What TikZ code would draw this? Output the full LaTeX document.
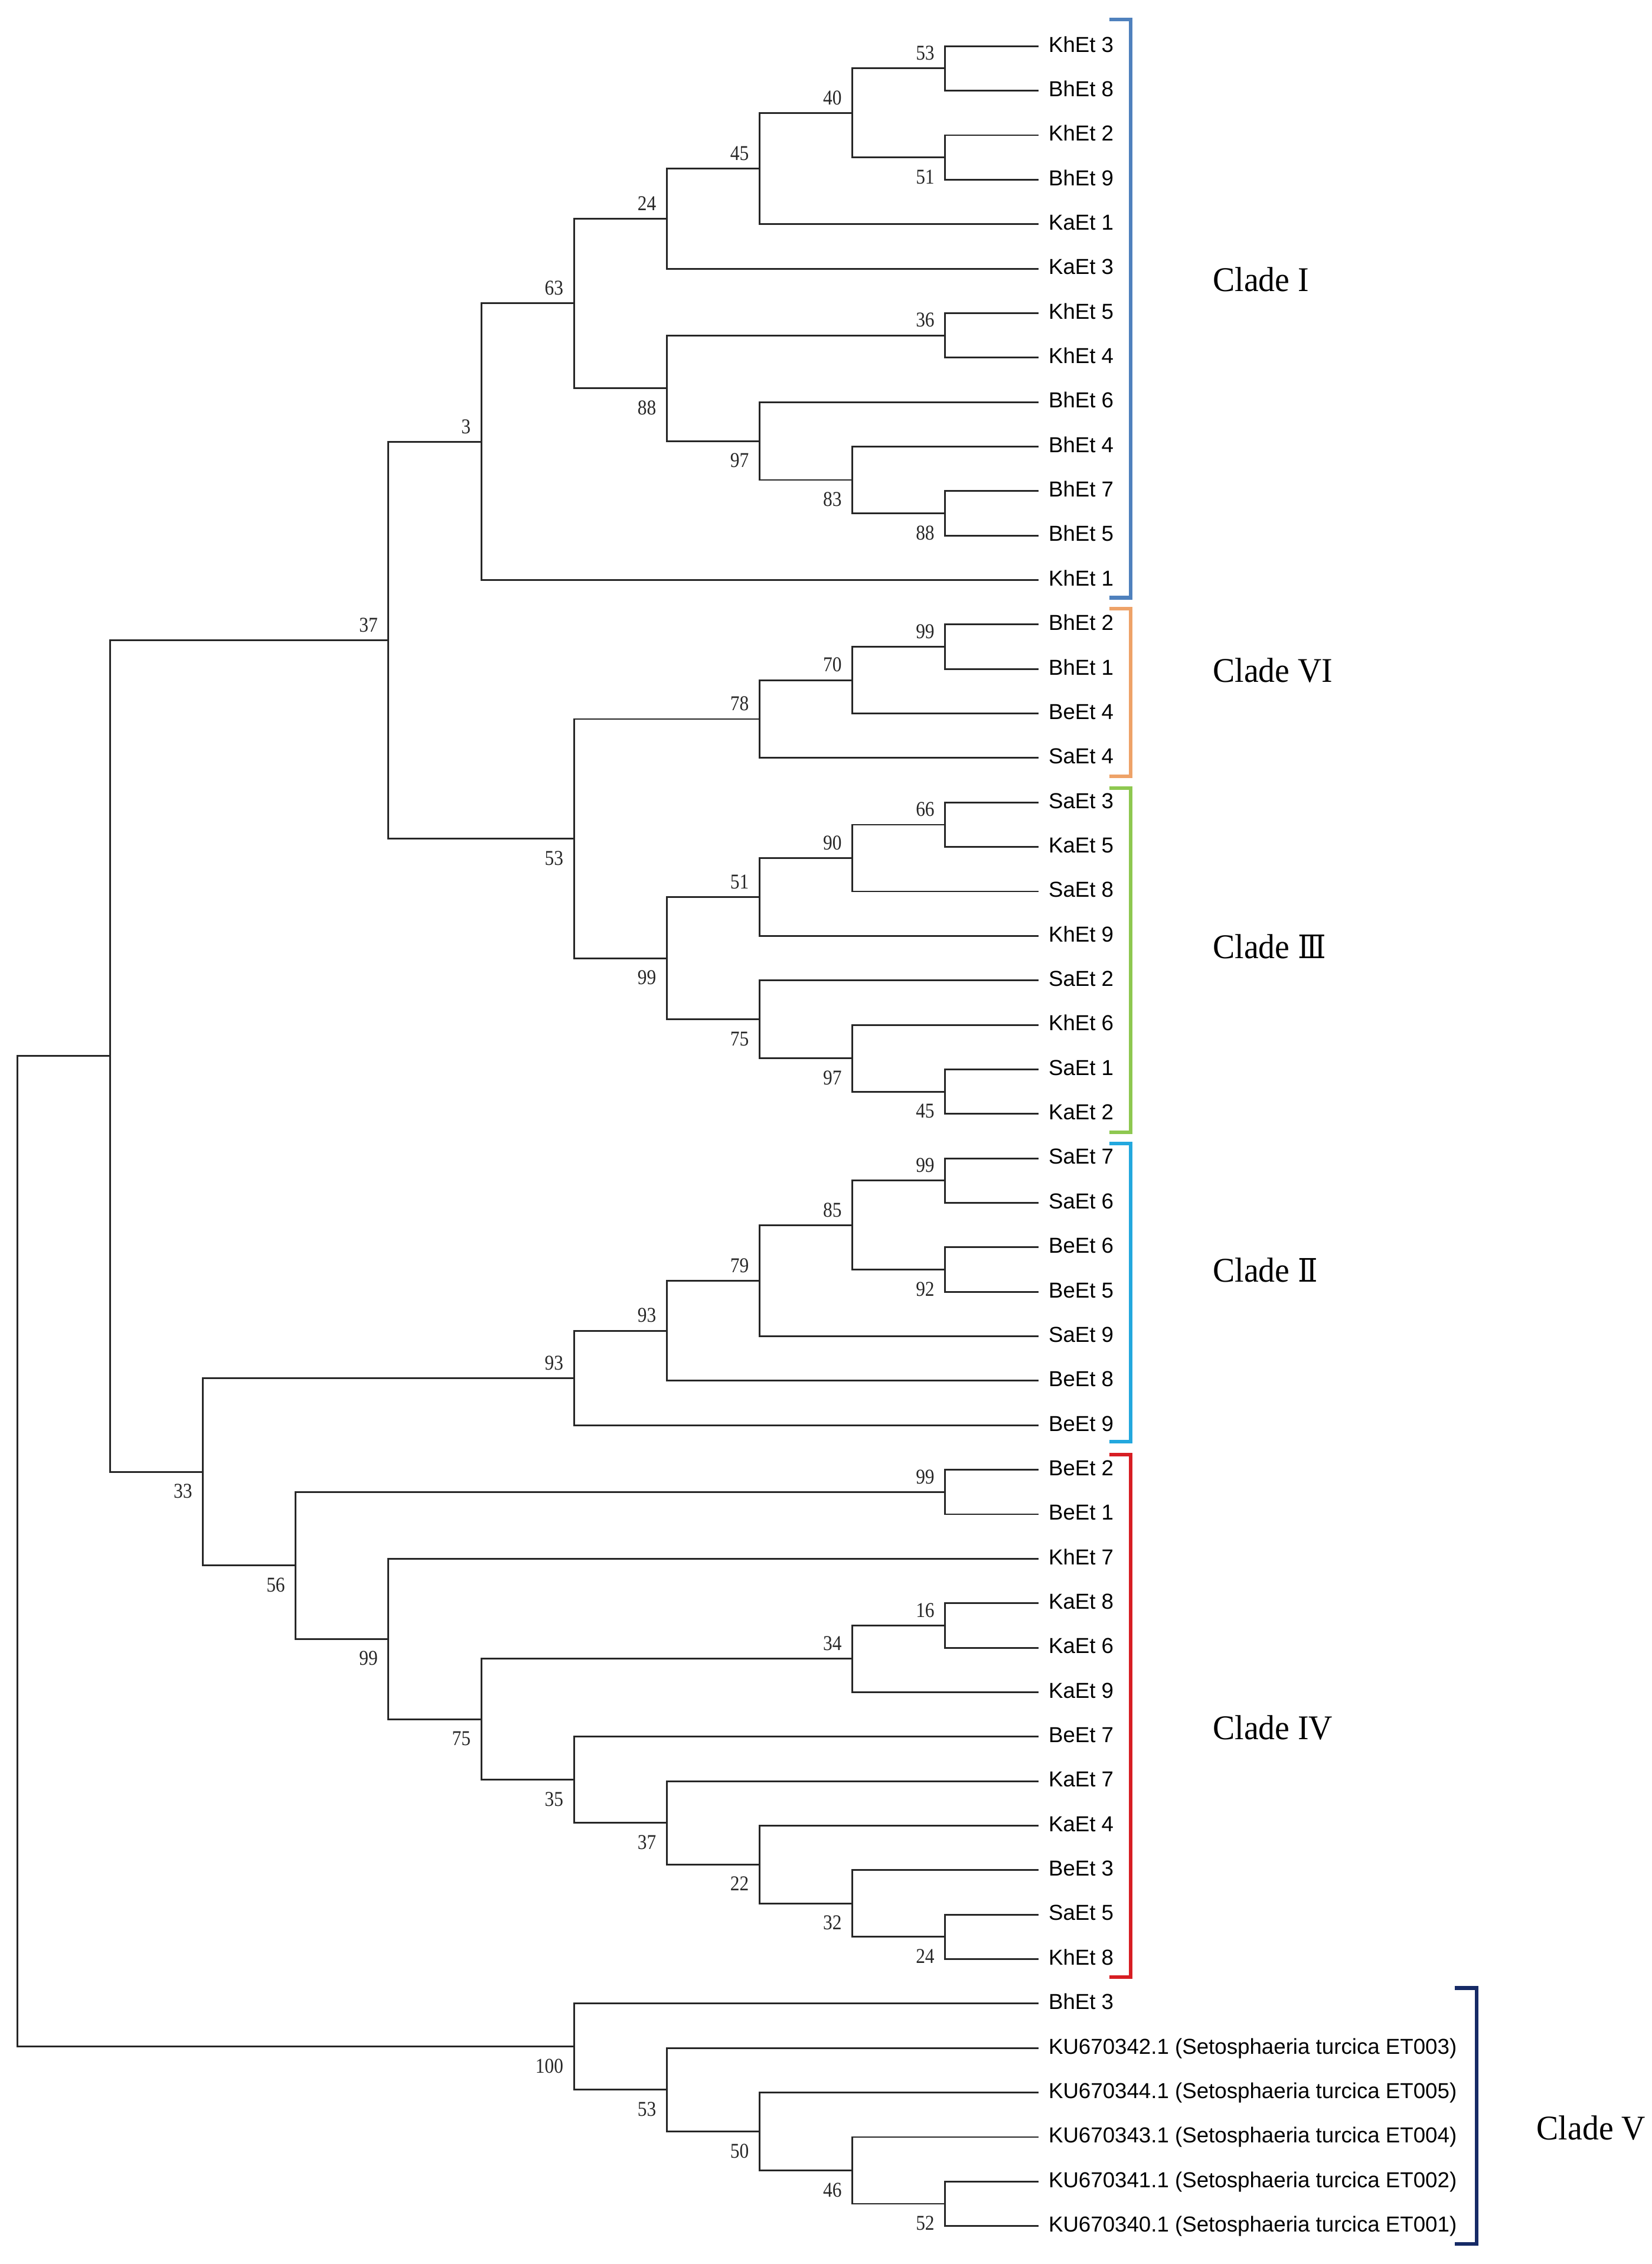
\documentclass[tikz,border=0pt]{standalone}
\usepackage{fontspec}
\setmainfont{Liberation Serif}
\newfontfamily\leaffont{Liberation Sans}
\newfontfamily\numfont[FakeStretch=0.88]{Liberation Serif}
\newfontfamily\cladefont[FakeStretch=0.95]{Liberation Serif}
\newfontfamily\romanfont[FakeStretch=0.9]{DejaVu Serif}
\definecolor{cI}{RGB}{79,129,189}
\definecolor{cVI}{RGB}{238,162,104}
\definecolor{cIII}{RGB}{142,200,80}
\definecolor{cII}{RGB}{35,168,222}
\definecolor{cIV}{RGB}{215,30,35}
\definecolor{cV}{RGB}{22,42,102}
\tikzset{
  br/.style={line width=0.6pt, draw=black!85, line cap=rect},
  leaf/.style={anchor=west, inner xsep=3.5pt, inner ysep=0pt, text height=4pt, text depth=0pt,
    font=\leaffont\fontsize{7.5pt}{9pt}\selectfont},
  bsnum/.style={inner sep=0pt, text height=4.9pt, text depth=0pt, xshift=-3.5pt,
    font=\numfont\fontsize{7.3pt}{9pt}\selectfont, text=black!85},
  bsu/.style={bsnum, anchor=south east, yshift=2.7pt},
  bsd/.style={bsnum, anchor=north east, yshift=-4pt},
  clade/.style={anchor=west, inner sep=0pt, text height=7.9pt, text depth=0pt,
    font=\cladefont\fontsize{12pt}{14pt}\selectfont},
  bracket/.style={line width=1.3pt, line cap=butt, line join=miter}
}
\newcommand\joinkids[3]{\draw[br] (#2) -| (#1) |- (#3);}
\newcommand\rmnum[1]{{\romanfont\fontsize{11.2pt}{14pt}\selectfont #1}}
\begin{document}
\begin{tikzpicture}[x=32.125pt, y=-15.405pt, shift={(6pt,-16pt)}]
\useasboundingbox (-6pt,16pt) rectangle (566pt,-768pt);
% leaves
\node[leaf] (l0) at (11,0) {KhEt 3};
\node[leaf] (l1) at (11,1) {BhEt 8};
\node[leaf] (l2) at (11,2) {KhEt 2};
\node[leaf] (l3) at (11,3) {BhEt 9};
\node[leaf] (l4) at (11,4) {KaEt 1};
\node[leaf] (l5) at (11,5) {KaEt 3};
\node[leaf] (l6) at (11,6) {KhEt 5};
\node[leaf] (l7) at (11,7) {KhEt 4};
\node[leaf] (l8) at (11,8) {BhEt 6};
\node[leaf] (l9) at (11,9) {BhEt 4};
\node[leaf] (l10) at (11,10) {BhEt 7};
\node[leaf] (l11) at (11,11) {BhEt 5};
\node[leaf] (l12) at (11,12) {KhEt 1};
\node[leaf] (l13) at (11,13) {BhEt 2};
\node[leaf] (l14) at (11,14) {BhEt 1};
\node[leaf] (l15) at (11,15) {BeEt 4};
\node[leaf] (l16) at (11,16) {SaEt 4};
\node[leaf] (l17) at (11,17) {SaEt 3};
\node[leaf] (l18) at (11,18) {KaEt 5};
\node[leaf] (l19) at (11,19) {SaEt 8};
\node[leaf] (l20) at (11,20) {KhEt 9};
\node[leaf] (l21) at (11,21) {SaEt 2};
\node[leaf] (l22) at (11,22) {KhEt 6};
\node[leaf] (l23) at (11,23) {SaEt 1};
\node[leaf] (l24) at (11,24) {KaEt 2};
\node[leaf] (l25) at (11,25) {SaEt 7};
\node[leaf] (l26) at (11,26) {SaEt 6};
\node[leaf] (l27) at (11,27) {BeEt 6};
\node[leaf] (l28) at (11,28) {BeEt 5};
\node[leaf] (l29) at (11,29) {SaEt 9};
\node[leaf] (l30) at (11,30) {BeEt 8};
\node[leaf] (l31) at (11,31) {BeEt 9};
\node[leaf] (l32) at (11,32) {BeEt 2};
\node[leaf] (l33) at (11,33) {BeEt 1};
\node[leaf] (l34) at (11,34) {KhEt 7};
\node[leaf] (l35) at (11,35) {KaEt 8};
\node[leaf] (l36) at (11,36) {KaEt 6};
\node[leaf] (l37) at (11,37) {KaEt 9};
\node[leaf] (l38) at (11,38) {BeEt 7};
\node[leaf] (l39) at (11,39) {KaEt 7};
\node[leaf] (l40) at (11,40) {KaEt 4};
\node[leaf] (l41) at (11,41) {BeEt 3};
\node[leaf] (l42) at (11,42) {SaEt 5};
\node[leaf] (l43) at (11,43) {KhEt 8};
\node[leaf] (l44) at (11,44) {BhEt 3};
\node[leaf] (l45) at (11,45) {KU670342.1 (Setosphaeria turcica ET003)};
\node[leaf] (l46) at (11,46) {KU670344.1 (Setosphaeria turcica ET005)};
\node[leaf] (l47) at (11,47) {KU670343.1 (Setosphaeria turcica ET004)};
\node[leaf] (l48) at (11,48) {KU670341.1 (Setosphaeria turcica ET002)};
\node[leaf] (l49) at (11,49) {KU670340.1 (Setosphaeria turcica ET001)};
% internal nodes
\coordinate (n53) at (10,0.5);
\coordinate (n51) at (10,2.5);
\coordinate (n40) at (9,1.5);
\coordinate (n45) at (8,2.75);
\coordinate (n24) at (7,3.875);
\coordinate (n36) at (10,6.5);
\coordinate (n88) at (10,10.5);
\coordinate (n83) at (9,9.75);
\coordinate (n97) at (8,8.875);
\coordinate (n88b) at (7,7.6875);
\coordinate (n63) at (6,5.78125);
\coordinate (n3) at (5,8.890625);
\coordinate (n99a) at (10,13.5);
\coordinate (n70) at (9,14.25);
\coordinate (n78) at (8,15.125);
\coordinate (n66) at (10,17.5);
\coordinate (n90) at (9,18.25);
\coordinate (n51b) at (8,19.125);
\coordinate (n45b) at (10,23.5);
\coordinate (n97b) at (9,22.75);
\coordinate (n75) at (8,21.875);
\coordinate (n99b) at (7,20.5);
\coordinate (n53b) at (6,17.8125);
\coordinate (n37) at (4,13.3515625);
\coordinate (n99c) at (10,25.5);
\coordinate (n92) at (10,27.5);
\coordinate (n85) at (9,26.5);
\coordinate (n79) at (8,27.75);
\coordinate (n93a) at (7,28.875);
\coordinate (n93b) at (6,29.9375);
\coordinate (n99d) at (10,32.5);
\coordinate (n16) at (10,35.5);
\coordinate (n34) at (9,36.25);
\coordinate (n24b) at (10,42.5);
\coordinate (n32) at (9,41.75);
\coordinate (n22) at (8,40.875);
\coordinate (n37b) at (7,39.9375);
\coordinate (n35) at (6,38.96875);
\coordinate (n75b) at (5,37.609375);
\coordinate (n99e) at (4,35.8046875);
\coordinate (n56) at (3,34.15234375);
\coordinate (n33) at (2,32.044921875);
\coordinate (nA) at (1,22.6982421875);
\coordinate (n52) at (10,48.5);
\coordinate (n46) at (9,47.75);
\coordinate (n50) at (8,46.875);
\coordinate (n53c) at (7,45.9375);
\coordinate (n100) at (6,44.96875);
\coordinate (root) at (0,33.83349609375);
% branches
\joinkids{n53}{l0}{l1}
\joinkids{n51}{l2}{l3}
\joinkids{n40}{n53}{n51}
\joinkids{n45}{n40}{l4}
\joinkids{n24}{n45}{l5}
\joinkids{n36}{l6}{l7}
\joinkids{n88}{l10}{l11}
\joinkids{n83}{l9}{n88}
\joinkids{n97}{l8}{n83}
\joinkids{n88b}{n36}{n97}
\joinkids{n63}{n24}{n88b}
\joinkids{n3}{n63}{l12}
\joinkids{n99a}{l13}{l14}
\joinkids{n70}{n99a}{l15}
\joinkids{n78}{n70}{l16}
\joinkids{n66}{l17}{l18}
\joinkids{n90}{n66}{l19}
\joinkids{n51b}{n90}{l20}
\joinkids{n45b}{l23}{l24}
\joinkids{n97b}{l22}{n45b}
\joinkids{n75}{l21}{n97b}
\joinkids{n99b}{n51b}{n75}
\joinkids{n53b}{n78}{n99b}
\joinkids{n37}{n3}{n53b}
\joinkids{n99c}{l25}{l26}
\joinkids{n92}{l27}{l28}
\joinkids{n85}{n99c}{n92}
\joinkids{n79}{n85}{l29}
\joinkids{n93a}{n79}{l30}
\joinkids{n93b}{n93a}{l31}
\joinkids{n99d}{l32}{l33}
\joinkids{n16}{l35}{l36}
\joinkids{n34}{n16}{l37}
\joinkids{n24b}{l42}{l43}
\joinkids{n32}{l41}{n24b}
\joinkids{n22}{l40}{n32}
\joinkids{n37b}{l39}{n22}
\joinkids{n35}{l38}{n37b}
\joinkids{n75b}{n34}{n35}
\joinkids{n99e}{l34}{n75b}
\joinkids{n56}{n99d}{n99e}
\joinkids{n33}{n93b}{n56}
\joinkids{nA}{n37}{n33}
\joinkids{n52}{l48}{l49}
\joinkids{n46}{l47}{n52}
\joinkids{n50}{l46}{n46}
\joinkids{n53c}{l45}{n50}
\joinkids{n100}{l44}{n53c}
\joinkids{root}{nA}{n100}
% bootstrap values
\node[bsu] (b53) at (n53) {53};
\node[bsd] (b51) at (n51) {51};
\node[bsu] (b40) at (n40) {40};
\node[bsu] (b45) at (n45) {45};
\node[bsu] (b24) at (n24) {24};
\node[bsu] (b36) at (n36) {36};
\node[bsd] (b88) at (n88) {88};
\node[bsd] (b83) at (n83) {83};
\node[bsd] (b97) at (n97) {97};
\node[bsd] (b88b) at (n88b) {88};
\node[bsu] (b63) at (n63) {63};
\node[bsu] (b3) at (n3) {3};
\node[bsu] (b99a) at (n99a) {99};
\node[bsu] (b70) at (n70) {70};
\node[bsu] (b78) at (n78) {78};
\node[bsu] (b66) at (n66) {66};
\node[bsu] (b90) at (n90) {90};
\node[bsu] (b51b) at (n51b) {51};
\node[bsd] (b45b) at (n45b) {45};
\node[bsd] (b97b) at (n97b) {97};
\node[bsd] (b75) at (n75) {75};
\node[bsd] (b99b) at (n99b) {99};
\node[bsd] (b53b) at (n53b) {53};
\node[bsu] (b37) at (n37) {37};
\node[bsu] (b99c) at (n99c) {99};
\node[bsd] (b92) at (n92) {92};
\node[bsu] (b85) at (n85) {85};
\node[bsu] (b79) at (n79) {79};
\node[bsu] (b93a) at (n93a) {93};
\node[bsu] (b93b) at (n93b) {93};
\node[bsu] (b99d) at (n99d) {99};
\node[bsu] (b16) at (n16) {16};
\node[bsu] (b34) at (n34) {34};
\node[bsd] (b24b) at (n24b) {24};
\node[bsd] (b32) at (n32) {32};
\node[bsd] (b22) at (n22) {22};
\node[bsd] (b37b) at (n37b) {37};
\node[bsd] (b35) at (n35) {35};
\node[bsd] (b75b) at (n75b) {75};
\node[bsd] (b99e) at (n99e) {99};
\node[bsd] (b56) at (n56) {56};
\node[bsd] (b33) at (n33) {33};
\node[bsd] (b52) at (n52) {52};
\node[bsd] (b46) at (n46) {46};
\node[bsd] (b50) at (n50) {50};
\node[bsd] (b53c) at (n53c) {53};
\node[bsd] (b100) at (n100) {100};
% clade brackets
\draw[bracket, cI] (11.77,-0.597) -- (12,-0.597) -- (12,12.40) -- (11.77,12.40);
\draw[bracket, cVI] (11.77,12.645) -- (12,12.645) -- (12,16.41) -- (11.77,16.41);
\draw[bracket, cIII] (11.77,16.68) -- (12,16.68) -- (12,24.41) -- (11.77,24.41);
\draw[bracket, cII] (11.77,24.67) -- (12,24.67) -- (12,31.37) -- (11.77,31.37);
\draw[bracket, cIV] (11.77,31.66) -- (12,31.66) -- (12,43.40) -- (11.77,43.40);
\draw[bracket, cV] (15.49,43.65) -- (15.73,43.65) -- (15.73,49.40) -- (15.49,49.40);
% clade labels
\node[clade] (cladeI) at (12.88,5.26) {Clade I};
\node[clade] (cladeVI) at (12.88,14.04) {Clade VI};
\node[clade] (cladeIII) at (12.88,20.25) {Clade \rmnum{Ⅲ}};
\node[clade] (cladeII) at (12.88,27.52) {Clade \rmnum{Ⅱ}};
\node[clade] (cladeIV) at (12.88,37.8) {Clade IV};
\node[clade] (cladeV) at (16.37,46.8) {Clade V};
\end{tikzpicture}
\end{document}
